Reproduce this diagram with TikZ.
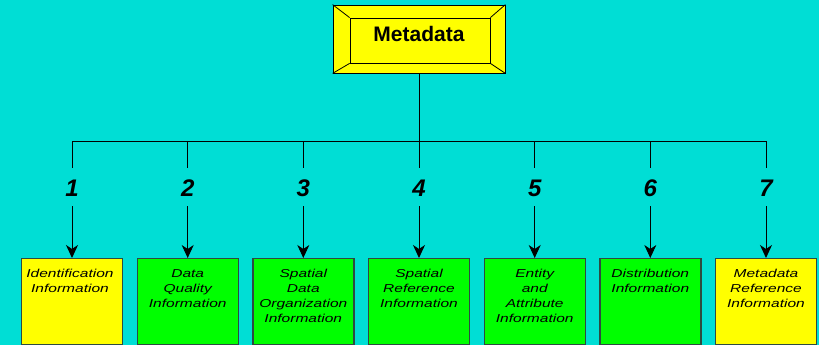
\documentclass[tikz,border=0pt]{standalone}
\usepackage{fontspec}
\setmainfont{Liberation Sans}
\newfontfamily\boxfont[FakeStretch=1.35]{Liberation Sans}
\usetikzlibrary{arrows.meta,calc}
\definecolor{bgcyan}{RGB}{0,222,213}
\definecolor{boxgreen}{RGB}{0,255,0}
\definecolor{boxyellow}{RGB}{255,255,0}
\definecolor{boxedge}{RGB}{45,75,65}
\tikzset{
  infobox/.style={draw=boxedge,line width=1.4pt,minimum width=101pt,minimum height=86pt,inner sep=0pt,anchor=north},
  boxtext/.style={anchor=north,inner sep=0pt,align=center,font={\boxfont\itshape\fontsize{11.5}{15}\selectfont}},
  numlabel/.style={inner xsep=2pt,inner ysep=10pt,text height=18pt,text depth=0pt,font={\bfseries\itshape\fontsize{24}{24}\selectfont}},
  conn/.style={line width=1pt,black},
  arr/.style={conn,-{Stealth[length=13pt,width=12pt,inset=4pt]}},
  bevel/.style={draw=black,line width=0.8pt}
}
\begin{document}
\begin{tikzpicture}[x=1pt,y=-1pt]
\fill[bgcyan] (0,0) rectangle (819,345);
\useasboundingbox (0,0) rectangle (819,345);
% Metadata box
\node[bevel,fill=boxyellow,minimum width=172pt,minimum height=68pt,inner sep=0pt] (meta) at (419,39) {};
\node[bevel,minimum width=140pt,minimum height=45pt,inner sep=0pt] (metain) at (420,40.5) {};
\draw[bevel] (meta.north west) -- (metain.north west);
\draw[bevel] (meta.north east) -- (metain.north east);
\draw[bevel] (meta.south west) -- (metain.south west);
\draw[bevel] (meta.south east) -- (metain.south east);
\node[anchor=base,inner sep=0pt,font={\bfseries\fontsize{21}{21}\selectfont}] (metatext) at (419,42) {Metadata};
% junctions
\foreach \i/\x in {1/72,2/187.7,3/303.3,4/419,5/534.7,6/650.3,7/766}{
  \coordinate (j\i) at (\x,141);
}
\draw[conn] (meta.south) -- (j4);
\draw[conn] (j1) -- (j7);
% boxes
\node[infobox,fill=boxyellow] (b1) at (72,258) {};
\node[infobox,fill=boxgreen] (b2) at (187.7,258) {};
\node[infobox,fill=boxgreen] (b3) at (303.3,258) {};
\node[infobox,fill=boxgreen] (b4) at (419,258) {};
\node[infobox,fill=boxgreen] (b5) at (534.7,258) {};
\node[infobox,fill=boxgreen] (b6) at (650.3,258) {};
\node[infobox,fill=boxyellow] (b7) at (766,258) {};
\node[boxtext] (t1) at (70,269) {Identification\\Information};
\node[boxtext] (t2) at (187.7,269) {Data\\Quality\\Information};
\node[boxtext] (t3) at (303.3,269) {Spatial\\Data\\Organization\\Information};
\node[boxtext] (t4) at (419,269) {Spatial\\Reference\\Information};
\node[boxtext] (t5) at (534.7,269) {Entity\\and\\Attribute\\Information};
\node[boxtext] (t6) at (650.3,269) {Distribution\\Information};
\node[boxtext] (t7) at (766,269) {Metadata\\Reference\\Information};
% numbers and arrows
\foreach \i/\x in {1/72,2/187.7,3/303.3,4/419,5/534.7,6/650.3,7/766}{
  \node[numlabel] (n\i) at (\x,187) {\i};
  \draw[conn] (j\i) -- (n\i);
  \draw[arr] (n\i) -- (b\i.north);
}
\end{tikzpicture}
\end{document}
